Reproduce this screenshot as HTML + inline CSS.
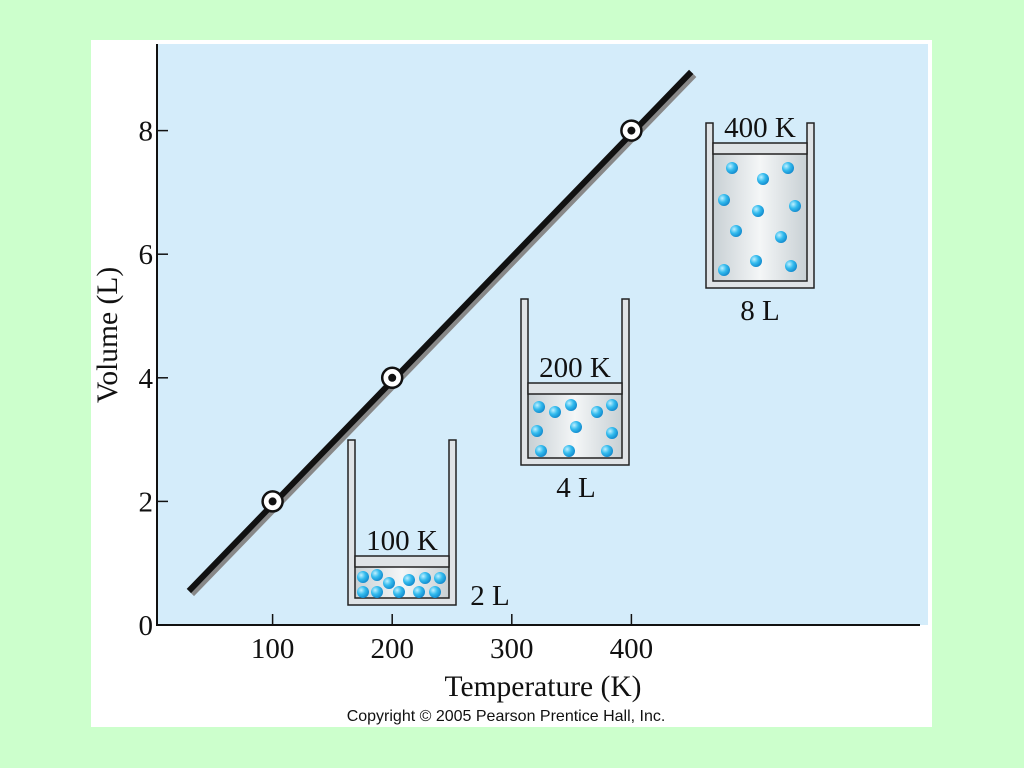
<!DOCTYPE html>
<html><head><meta charset="utf-8"><style>
body{margin:0;background:#ccffcc;width:1024px;height:768px;overflow:hidden}
svg{display:block}
text{font-family:"Liberation Serif",serif;fill:#111}
</style></head><body>
<svg width="1024" height="768">
<defs>
<radialGradient id="ball" cx="0.35" cy="0.35" r="0.7"><stop offset="0" stop-color="#bff0ff"/><stop offset="0.5" stop-color="#33bbee"/><stop offset="1" stop-color="#1188cc"/></radialGradient>
<linearGradient id="gas" x1="0" x2="1"><stop offset="0" stop-color="#c8d0d4"/><stop offset="0.5" stop-color="#f4f6f7"/><stop offset="1" stop-color="#c8d0d4"/></linearGradient>
</defs>
<rect x="91" y="40" width="841" height="687" fill="#fff"/>
<rect x="157" y="44" width="771" height="581" fill="#d4ecfa"/>
<g id="axes"></g>
<g id="cont"></g>
<text x="506" y="721" font-size="16" text-anchor="middle" style="font-family:'Liberation Sans',sans-serif">Copyright © 2005 Pearson Prentice Hall, Inc.</text>
</svg>
<script>
const xTicks=[100,200,300,400];
const yTicks=[0,2,4,6,8];
const temps=[100,200,400];
const vols=[2,4,8];
const lineT=[30,450];
const lineV=[0.55,8.95];
const X=t=>153+t*1.196, Y=v=>625-v*61.8;
const NS="http://www.w3.org/2000/svg";
function mk(p,tag,a,txt){const e=document.createElementNS(NS,tag);for(const k in a)e.setAttribute(k,a[k]);if(txt!=null)e.textContent=txt;p.appendChild(e);return e;}
const ax=document.getElementById('axes');
let e=mk(ax,'line',{x1:157,y1:44,x2:157,y2:626,stroke:'#111','stroke-width':2});

e=mk(ax,'line',{x1:156,y1:625,x2:920,y2:625,stroke:'#111','stroke-width':2});

xTicks.forEach(t=>{mk(ax,'line',{x1:X(t),y1:625,x2:X(t),y2:614,stroke:'#111','stroke-width':1.5});
 e=mk(ax,'text',{x:X(t),y:658,'font-size':29,'text-anchor':'middle'},t);
 });
yTicks.forEach(v=>{mk(ax,'line',{x1:157,y1:Y(v),x2:168,y2:Y(v),stroke:'#111','stroke-width':1.5});
 e=mk(ax,'text',{x:153,y:Y(v)+10,'font-size':29,'text-anchor':'end'},v);
 });
e=mk(ax,'text',{x:543,y:696,'font-size':29.5,'text-anchor':'middle'},'Temperature (K)');

e=mk(ax,'text',{x:0,y:0,'font-size':29.5,'text-anchor':'middle',transform:'translate(117,335) rotate(-90)'},'Volume (L)');

mk(ax,'line',{x1:X(lineT[0])+3,y1:Y(lineV[0])+3,x2:X(lineT[1])+3,y2:Y(lineV[1])+3,stroke:'#888','stroke-width':6});
e=mk(ax,'line',{x1:X(lineT[0]),y1:Y(lineV[0]),x2:X(lineT[1]),y2:Y(lineV[1]),stroke:'#111','stroke-width':6});

temps.forEach((t,i)=>{const g=mk(ax,'g',{});
 
 mk(g,'circle',{cx:X(t),cy:Y(vols[i]),r:10,fill:'#fff',stroke:'#111','stroke-width':2.5});
 mk(g,'circle',{cx:X(t),cy:Y(vols[i]),r:4,fill:'#111'});});
const C=document.getElementById('cont');
const conts=[
 {x:348,top:440,bot:605,p:556,lab:'100 K',vl:'2 L',vx:490,vy:605,balls:[[363,577],[377,575],[389,583],[409,580],[425,578],[440,578],[363,592],[377,592],[399,592],[419,592],[435,592]]},
 {x:521,top:299,bot:465,p:383,lab:'200 K',vl:'4 L',vx:576,vy:497,balls:[[539,407],[555,412],[571,405],[597,412],[612,405],[537,431],[576,427],[612,433],[541,451],[569,451],[607,451]]},
 {x:706,top:123,bot:288,p:143,lab:'400 K',vl:'8 L',vx:760,vy:320,balls:[[732,168],[763,179],[788,168],[724,200],[758,211],[795,206],[736,231],[781,237],[756,261],[724,270],[791,266]]}
];
conts.forEach(c=>{const g=mk(C,'g',{});
 
 const w=108,t=7;
 mk(g,'rect',{x:c.x+t,y:c.p+11,width:w-2*t,height:c.bot-t-c.p-11,fill:'url(#gas)'});
 mk(g,'path',{d:`M${c.x} ${c.top}h${t}v${c.bot-t-c.top}h${w-2*t}v${-(c.bot-t-c.top)}h${t}v${c.bot-c.top}h${-w}z`,fill:'#dfe3e6',stroke:'#222','stroke-width':1.5});
 mk(g,'rect',{x:c.x+t,y:c.p,width:w-2*t,height:11,fill:'#dfe3e6',stroke:'#222','stroke-width':1.5});
 c.balls.forEach(b=>mk(g,'circle',{cx:b[0],cy:b[1],r:6,fill:'url(#ball)'}));
 mk(g,'text',{x:c.x+w/2,y:c.p-6,'font-size':29,'text-anchor':'middle'},c.lab);
 mk(g,'text',{x:c.vx,y:c.vy,'font-size':29,'text-anchor':'middle'},c.vl);
});
</script>
</body></html>
